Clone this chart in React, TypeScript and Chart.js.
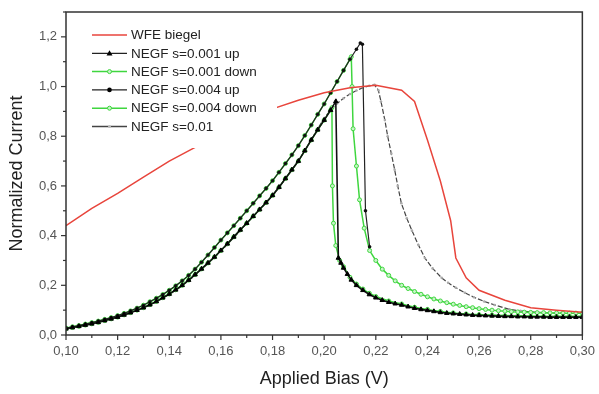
import React, { useEffect, useRef } from 'react';
import { Chart, registerables } from 'chart.js';

Chart.register(...registerables);

const FONT = "Arial, 'Liberation Sans', sans-serif";

// ---------- axis ----------
const xMin = 0.1;
const xMax = 0.3;
const xStep = 0.01;
const yMin = 0;
const yMax = 1.3;
const yStep = 0.1;

// ---------- WFE biegel (red) ----------
const wfeBias = [0.10, 0.11, 0.12, 0.13, 0.14, 0.15, 0.16, 0.17, 0.18, 0.19, 0.20, 0.21, 0.22, 0.23, 0.235, 0.24, 0.245, 0.249, 0.251, 0.255, 0.26, 0.27, 0.28, 0.29, 0.30];
const wfeVals = [0.44, 0.51, 0.57, 0.635, 0.70, 0.755, 0.80, 0.855, 0.91, 0.945, 0.975, 0.995, 1.005, 0.985, 0.94, 0.785, 0.62, 0.46, 0.31, 0.23, 0.18, 0.14, 0.11, 0.10, 0.092];

// ---------- shared rising bias grid ----------
const riseBias = [0.1000, 0.1025, 0.1050, 0.1075, 0.1100, 0.1125, 0.1150, 0.1175, 0.1200, 0.1225, 0.1250, 0.1275, 0.1300, 0.1325, 0.1350, 0.1375, 0.1400, 0.1425, 0.1450, 0.1475, 0.1500, 0.1525, 0.1550, 0.1575, 0.1600, 0.1625, 0.1650, 0.1675, 0.1700, 0.1725, 0.1750, 0.1775, 0.1800, 0.1825, 0.1850, 0.1875, 0.1900, 0.1925, 0.1950, 0.1975, 0.2000, 0.2025];
const lowerRise = [0.025, 0.030, 0.035, 0.040, 0.045, 0.051, 0.058, 0.065, 0.072, 0.081, 0.090, 0.100, 0.110, 0.122, 0.135, 0.150, 0.165, 0.182, 0.200, 0.221, 0.243, 0.266, 0.290, 0.314, 0.340, 0.367, 0.395, 0.423, 0.450, 0.478, 0.505, 0.533, 0.562, 0.595, 0.630, 0.665, 0.700, 0.742, 0.785, 0.826, 0.865, 0.905];
const upperRise = [0.028, 0.033, 0.038, 0.044, 0.050, 0.056, 0.063, 0.070, 0.078, 0.087, 0.097, 0.108, 0.120, 0.134, 0.148, 0.163, 0.180, 0.198, 0.218, 0.240, 0.265, 0.293, 0.322, 0.352, 0.382, 0.411, 0.440, 0.470, 0.500, 0.530, 0.560, 0.590, 0.621, 0.655, 0.690, 0.725, 0.762, 0.803, 0.845, 0.888, 0.930, 0.975];

// ---------- NEGF s=0.001 up (black triangles) ----------
const up001TipBias = [0.2045];
const up001TipVals = [0.940];
const lowerDecayBias = [0.2055, 0.2065, 0.2075, 0.2090, 0.2105, 0.2125, 0.2150, 0.2175, 0.2200, 0.2225, 0.2250, 0.2275, 0.2300, 0.2325, 0.2350, 0.2375, 0.2400, 0.2425, 0.2450, 0.2475, 0.2500, 0.2525, 0.2550, 0.2575, 0.2600, 0.2625, 0.2650, 0.2675, 0.2700, 0.2725, 0.2750, 0.2775, 0.2800, 0.2825, 0.2850, 0.2875, 0.2900, 0.2925, 0.2950, 0.2975, 0.3000];
const lowerDecay = [0.310, 0.290, 0.270, 0.245, 0.222, 0.200, 0.180, 0.163, 0.150, 0.140, 0.132, 0.126, 0.121, 0.114, 0.108, 0.103, 0.099, 0.095, 0.091, 0.088, 0.086, 0.084, 0.082, 0.080, 0.079, 0.078, 0.077, 0.076, 0.075, 0.075, 0.074, 0.074, 0.073, 0.073, 0.073, 0.072, 0.072, 0.072, 0.072, 0.072, 0.072];

// ---------- NEGF s=0.004 up (black dots) ----------
const up004PeakBias = [0.2050, 0.2075, 0.2100, 0.2125, 0.2140, 0.2148, 0.2160, 0.2176];
const up004PeakVals = [1.020, 1.065, 1.110, 1.150, 1.175, 1.170, 0.500, 0.355];

// ---------- NEGF s=0.001 down (green) ----------
const down001TipBias = [0.2050, 0.2075, 0.2100, 0.2105, 0.2108, 0.2112, 0.2125, 0.2137, 0.2155, 0.2176];
const down001TipVals = [1.020, 1.065, 1.110, 1.120, 1.000, 0.830, 0.680, 0.544, 0.430, 0.340];
const upperDecayBias = [0.2200, 0.2225, 0.2250, 0.2275, 0.2300, 0.2325, 0.2350, 0.2375, 0.2400, 0.2425, 0.2450, 0.2475, 0.2500, 0.2525, 0.2550, 0.2575, 0.2600, 0.2625, 0.2650, 0.2675, 0.2700, 0.2725, 0.2750, 0.2775, 0.2800, 0.2825, 0.2850, 0.2875, 0.2900, 0.2925, 0.2950, 0.2975, 0.3000];
const upperDecay = [0.300, 0.265, 0.240, 0.218, 0.200, 0.187, 0.175, 0.164, 0.154, 0.145, 0.137, 0.130, 0.124, 0.119, 0.114, 0.110, 0.106, 0.103, 0.100, 0.098, 0.096, 0.094, 0.093, 0.092, 0.091, 0.090, 0.090, 0.089, 0.089, 0.088, 0.088, 0.088, 0.088];

// ---------- NEGF s=0.004 down (green) ----------
const down004TipBias = [0.2030, 0.2032, 0.2036, 0.2045, 0.2060];
const down004TipVals = [0.915, 0.600, 0.450, 0.360, 0.300];
const down004DecayBias = [0.2075, 0.2100, 0.2125, 0.2150, 0.2175, 0.2200, 0.2250, 0.2300, 0.2350, 0.2400, 0.2450, 0.2500, 0.2550, 0.2600, 0.2650, 0.2700, 0.2750, 0.2800, 0.2850, 0.2900, 0.2950, 0.3000];
const down004Decay = [0.275, 0.232, 0.205, 0.185, 0.168, 0.155, 0.137, 0.125, 0.112, 0.103, 0.095, 0.089, 0.085, 0.082, 0.080, 0.078, 0.077, 0.076, 0.075, 0.075, 0.075, 0.075];

// ---------- NEGF s=0.01 (grey) ----------
const grayBias = [0.100, 0.105, 0.110, 0.115, 0.120, 0.125, 0.130, 0.135, 0.140, 0.145, 0.150, 0.155, 0.160, 0.165, 0.170, 0.175, 0.180, 0.185, 0.190, 0.195, 0.1975, 0.200, 0.2025, 0.205, 0.2075, 0.210, 0.2125, 0.215, 0.2175, 0.2195, 0.221, 0.222, 0.2235, 0.2246, 0.226, 0.2273, 0.2285, 0.2299, 0.232, 0.234, 0.2365, 0.239, 0.242, 0.2455, 0.248, 0.251, 0.2545, 0.258, 0.262, 0.266, 0.2718, 0.276, 0.280, 0.285, 0.290, 0.295, 0.300];
const grayVals = [0.024, 0.033, 0.044, 0.057, 0.071, 0.089, 0.109, 0.134, 0.163, 0.198, 0.240, 0.287, 0.337, 0.392, 0.450, 0.503, 0.560, 0.628, 0.700, 0.785, 0.830, 0.872, 0.906, 0.932, 0.953, 0.970, 0.984, 0.995, 1.003, 1.007, 0.985, 0.940, 0.865, 0.800, 0.730, 0.665, 0.600, 0.530, 0.470, 0.420, 0.362, 0.310, 0.268, 0.230, 0.210, 0.190, 0.170, 0.152, 0.135, 0.121, 0.103, 0.097, 0.093, 0.090, 0.088, 0.087, 0.087];

const seriesLabels = ['WFE biegel', 'NEGF s=0.001 up', 'NEGF s=0.001 down', 'NEGF s=0.004 up', 'NEGF s=0.004 down', 'NEGF s=0.01'];

const RED = '#e8453c';
const GREEN = '#3fd63f';
const GREEN_FILL = '#c8f4c8';

const pts = (xs: number[], ys: number[]) => xs.map((x, i) => ({ x, y: ys[i] }));

function drawMarker(ctx: CanvasRenderingContext2D, kind: string, x: number, y: number) {
  ctx.save();
  if (kind === 'tri') {
    const r = 3;
    ctx.fillStyle = '#000';
    ctx.beginPath();
    ctx.moveTo(x, y - r);
    ctx.lineTo(x + r, y + r * 0.7);
    ctx.lineTo(x - r, y + r * 0.7);
    ctx.closePath();
    ctx.fill();
  } else if (kind === 'dot') {
    ctx.fillStyle = '#000';
    ctx.beginPath();
    ctx.arc(x, y, 2.3, 0, Math.PI * 2);
    ctx.fill();
  } else if (kind === 'green') {
    ctx.fillStyle = GREEN_FILL;
    ctx.strokeStyle = GREEN;
    ctx.lineWidth = 1;
    ctx.beginPath();
    ctx.arc(x, y, 2, 0, Math.PI * 2);
    ctx.fill();
    ctx.stroke();
  } else if (kind === 'gray') {
    ctx.fillStyle = '#bbb';
    ctx.beginPath();
    ctx.arc(x, y, 1.5, 0, Math.PI * 2);
    ctx.fill();
  }
  ctx.restore();
}

export default function App() {
  const ref = useRef<HTMLCanvasElement>(null);

  useEffect(() => {
    const canvas = ref.current;
    if (!canvas) return;

    const legendStyles = [
      { color: RED, marker: 'none', width: 1.5 },
      { color: '#222', marker: 'tri', width: 1.3 },
      { color: GREEN, marker: 'green', width: 1.5 },
      { color: '#222', marker: 'dot', width: 1.3 },
      { color: GREEN, marker: 'green', width: 1.5 },
      { color: '#444', marker: 'gray', width: 1.3 },
    ];

    const framePlugin = {
      id: 'framePlugin',
      afterDatasetsDraw(chart: any) {
        const { ctx, chartArea: ca } = chart;
        ctx.save();
        // legend box
        ctx.fillStyle = '#fff';
        ctx.fillRect(86, 22, 191, 126);
        seriesLabels.forEach((label, i) => {
          const y = 35 + i * 18.3;
          const st = legendStyles[i];
          ctx.strokeStyle = st.color;
          ctx.lineWidth = st.width;
          ctx.beginPath();
          ctx.moveTo(92, y);
          ctx.lineTo(127, y);
          ctx.stroke();
          drawMarker(ctx, st.marker, 109.5, y);
          ctx.fillStyle = '#222';
          ctx.font = `13.5px ${FONT}`;
          ctx.textBaseline = 'middle';
          ctx.textAlign = 'left';
          ctx.fillText(label, 131, y + 0.5);
        });
        // frame
        ctx.strokeStyle = '#333';
        ctx.lineWidth = 1.5;
        ctx.strokeRect(ca.left, ca.top, ca.right - ca.left, ca.bottom - ca.top);
        // ticks
        ctx.lineWidth = 1.2;
        const xs = chart.scales.x;
        xs.ticks.forEach((t: any) => {
          const px = xs.getPixelForValue(t.value);
          const major = Math.round(t.value * 100) % 2 === 0;
          ctx.beginPath();
          ctx.moveTo(px, ca.bottom);
          ctx.lineTo(px, ca.bottom + (major ? 5 : 3));
          ctx.stroke();
        });
        const ys = chart.scales.y;
        ys.ticks.forEach((t: any) => {
          const py = ys.getPixelForValue(t.value);
          const major = Math.round(t.value * 10) % 2 === 0;
          ctx.beginPath();
          ctx.moveTo(ca.left, py);
          ctx.lineTo(ca.left - (major ? 5 : 3), py);
          ctx.stroke();
        });
        ctx.restore();
      },
    };

    const chart = new Chart(canvas, {
      type: 'line',
      data: {
        datasets: [
          {
            label: seriesLabels[0],
            data: pts(wfeBias, wfeVals),
            borderColor: RED,
            borderWidth: 1.5,
            pointRadius: 0,
            order: 0,
          },
          {
            label: seriesLabels[1],
            data: [...pts(riseBias, lowerRise), ...pts(up001TipBias, up001TipVals), ...pts(lowerDecayBias, lowerDecay)],
            borderColor: '#111',
            borderWidth: 1.6,
            pointStyle: 'triangle',
            pointRadius: 2.6,
            pointBackgroundColor: '#000',
            pointBorderColor: '#000',
            pointBorderWidth: 1,
            order: 1,
          },
          {
            label: seriesLabels[2],
            data: [...pts(riseBias, upperRise), ...pts(down001TipBias, down001TipVals), ...pts(upperDecayBias, upperDecay)],
            borderColor: GREEN,
            borderWidth: 1.5,
            pointStyle: 'circle',
            pointRadius: 2,
            pointBackgroundColor: GREEN_FILL,
            pointBorderColor: GREEN,
            pointBorderWidth: 1,
            order: 3,
          },
          {
            label: seriesLabels[3],
            data: [...pts(riseBias, upperRise), ...pts(up004PeakBias, up004PeakVals)],
            borderColor: '#222',
            borderWidth: 1.2,
            pointStyle: 'circle',
            pointRadius: 1.8,
            pointBackgroundColor: '#111',
            pointBorderColor: '#111',
            pointBorderWidth: 0,
            order: 2,
          },
          {
            label: seriesLabels[4],
            data: [...pts(riseBias, lowerRise), ...pts(down004TipBias, down004TipVals), ...pts(down004DecayBias, down004Decay)],
            borderColor: GREEN,
            borderWidth: 1.5,
            pointStyle: 'circle',
            pointRadius: 2,
            pointBackgroundColor: GREEN_FILL,
            pointBorderColor: GREEN,
            pointBorderWidth: 1,
            order: 4,
          },
          {
            label: seriesLabels[5],
            data: pts(grayBias, grayVals),
            borderColor: '#444',
            borderWidth: 1.2,
            borderDash: [5, 2],
            pointStyle: 'circle',
            pointRadius: 1.3,
            pointBackgroundColor: '#aaa',
            pointBorderWidth: 0,
            order: 5,
          },
        ],
      },
      options: {
        responsive: false,
        animation: false,
        devicePixelRatio: 1,
        layout: { padding: { left: 0, right: 16, top: 12, bottom: 0 } },
        plugins: { legend: { display: false }, tooltip: { enabled: false } },
        scales: {
          x: {
            type: 'linear',
            min: xMin,
            max: xMax,
            afterFit: (s: any) => {
              s.height = 59;
            },
            ticks: {
              stepSize: xStep,
              autoSkip: false,
              maxRotation: 0,
              padding: 4,
              color: '#555',
              font: { family: FONT, size: 13 },
              callback: (v: any) => {
                const k = Math.round(Number(v) * 100);
                return k % 2 === 0 ? (k / 100).toFixed(2).replace('.', ',') : '';
              },
            },
            grid: { drawOnChartArea: false, drawTicks: true, tickLength: 5, tickColor: 'rgba(0,0,0,0)' },
            border: { display: false },
            title: {
              display: true,
              text: 'Applied Bias (V)',
              color: '#222',
              font: { family: FONT, size: 18 },
              padding: { top: 0, bottom: 4 },
            },
          },
          y: {
            type: 'linear',
            min: yMin,
            max: yMax,
            afterFit: (s: any) => {
              s.width = 66;
            },
            ticks: {
              stepSize: yStep,
              autoSkip: false,
              padding: 4,
              color: '#555',
              font: { family: FONT, size: 13 },
              callback: (v: any) => {
                const k = Math.round(Number(v) * 10);
                return k % 2 === 0 ? (k / 10).toFixed(1).replace('.', ',') : '';
              },
            },
            grid: { drawOnChartArea: false, drawTicks: true, tickLength: 5, tickColor: 'rgba(0,0,0,0)' },
            border: { display: false },
            title: {
              display: true,
              text: 'Normalized Current',
              color: '#222',
              font: { family: FONT, size: 18 },
              padding: { top: 6, bottom: 0 },
            },
          },
        },
      },
      plugins: [framePlugin],
    } as any);

    return () => chart.destroy();
  }, []);

  return (
    <div style={{ position: 'absolute', left: 0, top: 0, width: 599, height: 394, background: '#fff' }}>
      <canvas ref={ref} width={599} height={394} style={{ width: 599, height: 394, display: 'block' }} />
    </div>
  );
}
